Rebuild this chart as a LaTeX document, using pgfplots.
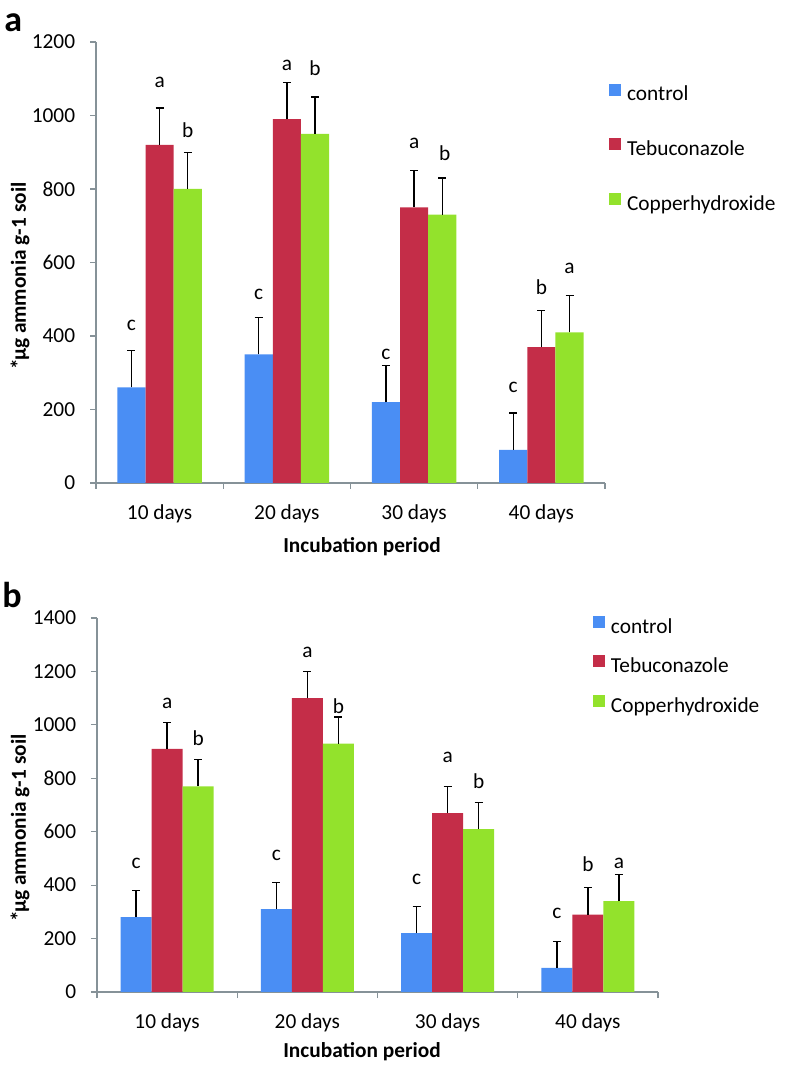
\documentclass[border=0pt]{standalone}
\usepackage{fontspec}
\setmainfont{Carlito}
\usepackage{pgfplots}
\pgfplotsset{compat=1.18}
\usepackage{pgfplotstable}

\definecolor{cblue}{RGB}{74,142,244}
\definecolor{cred}{RGB}{196,45,72}
\definecolor{cgreen}{RGB}{147,226,44}
\definecolor{axgray}{RGB}{134,146,152}
\newcommand\fs{\fontsize{16}{19}\selectfont}

\pgfplotstableread{
x c ce t te g ge
0 260 100 920 100 800 100
1 350 100 990 100 950 100
2 220 100 750 100 730 100
3 90 100 370 100 410 100
}\dataA
\pgfplotstableread{
x c ce t te g ge
0 280 100 910 100 770 100
1 310 100 1100 100 930 100
2 220 100 670 100 610 100
3 90 100 290 100 340 100
}\dataB

\pgfplotsset{
  panel/.style={
    scale only axis, anchor=south west, clip=false,
    ybar=0pt,
    axis x line*=bottom, axis y line*=left,
    axis line style={-, draw=axgray, line width=0.9pt},
    xmin=-0.5, xmax=3.5, ymin=0,
    xtick={-0.5,0.5,1.5,2.5,3.5}, xticklabels={,,,,},
    extra x ticks={0,1,2,3},
    extra x tick labels={10 days,20 days,30 days,40 days},
    extra x tick style={major tick length=0pt},
    tick align=outside, major tick length=4.5pt,
    tick style={draw=axgray, line width=0.9pt},
    /pgf/number format/assume math mode=true,
    /pgf/number format/1000 sep={},
    ticklabel style={font=\fs, inner sep=0pt},
    yticklabel style={anchor=east, xshift=-11pt},
    xticklabel style={anchor=north, yshift=-16pt},
    ytick distance=200,
    error bars/y dir=plus, error bars/y explicit,
    error bars/error bar style={black, line width=1pt},
    error bars/error mark options={black, line width=1pt, mark size=3pt, rotate=90},
    legend style={draw=none, fill=none, inner sep=0pt, outer sep=0pt,
      column sep=4.5pt, anchor=north west,
      nodes={inner sep=0pt, text height=12pt, text depth=4pt, font=\fs}},
    legend cell align=left,
  },
  sq/.style={legend image code/.code={\fill[##1] (0pt,0pt) rectangle (9pt,9pt);}},
}

\begin{document}
\begin{tikzpicture}
\path[use as bounding box] (0,0) rectangle (589.5pt,799.5pt);

% ---------- panel a ----------
\begin{axis}[panel, at={(72pt,437.25pt)}, width=381.75pt, height=330.75pt,
  ymax=1200, bar width=21.1pt,
  legend style={at={(axis description cs:1.0079,0.9057)}, row sep=24.1pt}]
\addplot[fill=cblue, draw=none, sq] table[x=x, y=c, y error=ce] {\dataA};
\addplot[fill=cred, draw=none, sq] table[x=x, y=t, y error=te] {\dataA};
\addplot[fill=cgreen, draw=none, sq] table[x=x, y=g, y error=ge] {\dataA};
\legend{control,Tebuconazole,Copperhydroxide}
\begin{scope}[every node/.style={font=\fs}]
\node at (axis cs:-0.221,430) {c};
\node at (axis cs:0,1091) {a};
\node at (axis cs:0.221,960) {b};
\node at (axis cs:0.779,512) {c};
\node at (axis cs:1,1137) {a};
\node at (axis cs:1.221,1129) {b};
\node at (axis cs:1.779,350) {c};
\node at (axis cs:2,923) {a};
\node at (axis cs:2.24,898) {b};
\node at (axis cs:2.779,259) {c};
\node at (axis cs:3,534) {b};
\node at (axis cs:3.221,584) {a};
\end{scope}
\end{axis}

% ---------- panel b ----------
\begin{axis}[panel, at={(72.75pt,55.5pt)}, width=420.75pt, height=280.5pt,
  ymax=1400, bar width=23.25pt,
  legend style={at={(axis description cs:0.884,1.005)}, row sep=12.5pt}]
\addplot[fill=cblue, draw=none, sq] table[x=x, y=c, y error=ce] {\dataB};
\addplot[fill=cred, draw=none, sq] table[x=x, y=t, y error=te] {\dataB};
\addplot[fill=cgreen, draw=none, sq] table[x=x, y=g, y error=ge] {\dataB};
\legend{control,Tebuconazole,Copperhydroxide}
\begin{scope}[every node/.style={font=\fs}]
\node at (axis cs:-0.221,483) {c};
\node at (axis cs:0,1082) {a};
\node at (axis cs:0.221,951) {b};
\node at (axis cs:0.779,513) {c};
\node at (axis cs:1,1273) {a};
\node at (axis cs:1.221,1071) {b};
\node at (axis cs:1.779,423) {c};
\node at (axis cs:2,877) {a};
\node at (axis cs:2.221,791) {b};
\node at (axis cs:2.779,295) {c};
\node at (axis cs:3,480) {b};
\node at (axis cs:3.221,480) {a};
\end{scope}
\end{axis}

% ---------- titles and labels ----------
\node[font=\fs\bfseries, rotate=90, inner sep=0pt] at (15pt,592.5pt) {*\kern-1.5ptµg ammonia g-1 soil};
\node[font=\fs\bfseries, rotate=90, inner sep=0pt] at (15pt,178.5pt) {*\kern-1.5ptµg ammonia g-1 soil};
\node[font=\fs\bfseries, inner sep=0pt] at (271.5pt,389.25pt) {Incubation period};
\node[font=\fs\bfseries, inner sep=0pt] at (271.5pt,10.5pt) {Incubation period};
\node[font=\fontsize{27}{30}\selectfont\bfseries, inner sep=0pt, anchor=base west] at (3pt,775.5pt) {a};
\node[font=\fontsize{27}{30}\selectfont\bfseries, inner sep=0pt, anchor=base west] at (1.5pt,343.5pt) {b};
\end{tikzpicture}
\end{document}
